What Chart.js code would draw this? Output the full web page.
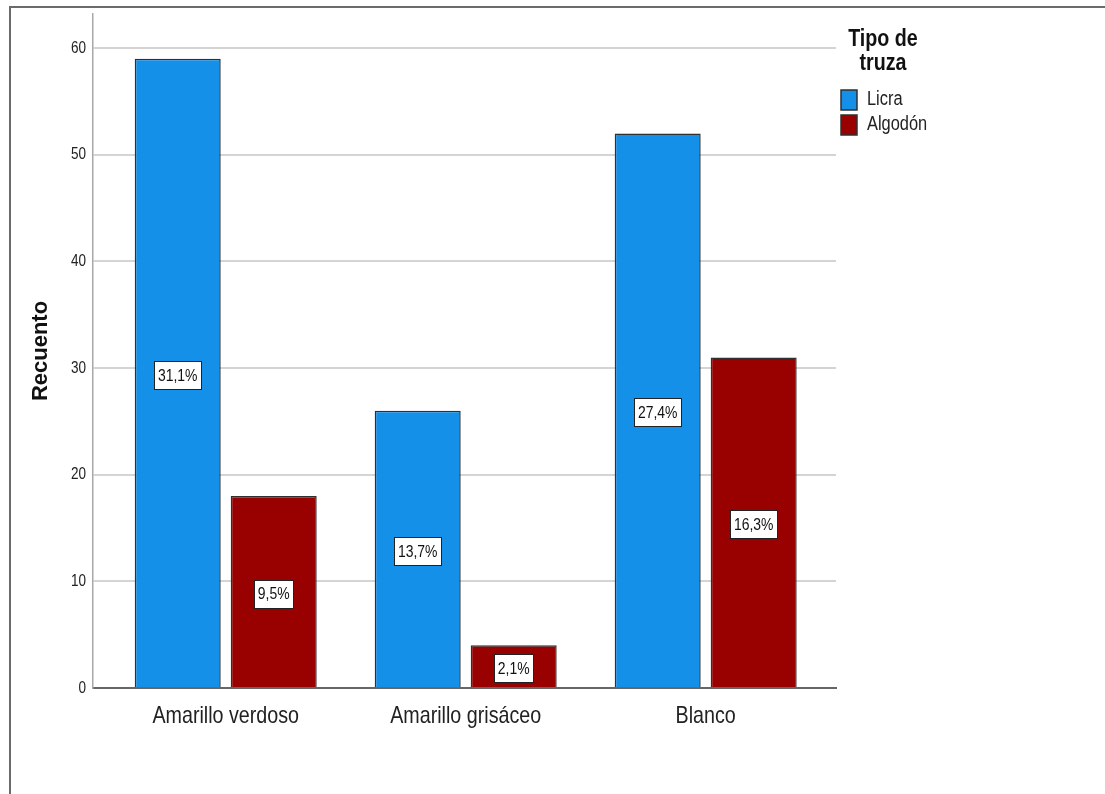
<!DOCTYPE html>
<html>
<head>
<meta charset="utf-8">
<script src="https://cdn.jsdelivr.net/npm/chart.js@4.4.1/dist/chart.umd.min.js"></script>
<style>
  html, body { margin: 0; padding: 0; background: #fff; }
  #wrap { position: relative; width: 1105px; height: 794px; overflow: hidden; }
  #chart { position: absolute; left: 0; top: 0; }
  #frame {
    position: absolute; left: 9px; top: 6px; right: -2px; bottom: -2px;
    border-top: 2px solid #6b6b6b; border-left: 2px solid #6b6b6b;
    pointer-events: none;
  }
</style>
</head>
<body>
<div id="wrap">
  <canvas id="chart" width="1105" height="794"></canvas>
  <div id="frame"></div>
</div>
<script>
const categories = ['Amarillo verdoso', 'Amarillo grisáceo', 'Blanco']
const licra = [59, 26, 52]
const algodon = [18, 4, 31]
const yTicks = [0, 10, 20, 30, 40, 50, 60]

const FONT = "'Liberation Sans', Arial, sans-serif"
const SQUEEZE = 0.82 // condensed look of the SPSS output text
const total = [...licra, ...algodon].reduce((a, b) => a + b, 0)

const toPoints = (vals) => vals.map((v, i) => ({ x: i + 1, y: v }))
const pctText = (v) => ((v / total) * 100).toFixed(1).replace('.', ',') + '%'

// draw horizontal text condensed; rotated text (axis title) is left alone
const narrowText = {
  id: 'narrowText',
  beforeDraw(chart) {
    const ctx = chart.ctx
    if (ctx.__narrow) return
    ctx.__narrow = true
    const fill = ctx.fillText.bind(ctx)
    ctx.fillText = (text, x, y) => {
      const m = ctx.getTransform()
      if (m.b !== 0 || m.c !== 0) return fill(text, x, y)
      ctx.save()
      ctx.translate(x, y)
      ctx.scale(SQUEEZE, 1)
      fill(text, 0, 0)
      ctx.restore()
    }
  },
}

// white boxed percentage in the middle of each bar
const barLabels = {
  id: 'barLabels',
  afterDatasetsDraw(chart) {
    const { ctx } = chart
    ctx.save()
    ctx.font = `17px ${FONT}`
    ctx.textAlign = 'center'
    ctx.textBaseline = 'middle'
    chart.data.datasets.forEach((ds, di) => {
      chart.getDatasetMeta(di).data.forEach((bar, i) => {
        const text = pctText(ds.data[i].y)
        const cy = (bar.y + bar.base) / 2 + 2
        const w = Math.round(ctx.measureText(text).width * SQUEEZE + 7)
        const h = 28
        const left = Math.round(bar.x - w / 2)
        const top = Math.round(cy - h / 2)
        ctx.fillStyle = '#fff'
        ctx.fillRect(left, top, w, h)
        ctx.strokeStyle = '#222'
        ctx.lineWidth = 1
        ctx.strokeRect(left + 0.5, top + 0.5, w, h)
        ctx.fillStyle = '#111'
        ctx.fillText(text, bar.x, cy + 1)
      })
    })
    ctx.restore()
  },
}

new Chart(document.getElementById('chart'), {
  type: 'bar',
  data: {
    datasets: [
      { label: 'Licra', data: toPoints(licra), backgroundColor: '#1490e8', borderColor: '#303030', borderWidth: 1.5 },
      { label: 'Algodón', data: toPoints(algodon), backgroundColor: '#990000', borderColor: '#303030', borderWidth: 1.5 },
    ],
  },
  options: {
    responsive: false,
    animation: false,
    devicePixelRatio: 1,
    categoryPercentage: 0.8,
    barPercentage: 0.896,
    layout: { padding: { left: 0, top: 14, right: 175, bottom: 0 } },
    plugins: {
      tooltip: { enabled: false },
      legend: {
        position: 'right',
        align: 'start',
        maxWidth: 94,
        title: {
          display: true,
          text: ['Tipo de', 'truza'],
          color: '#111',
          font: { family: FONT, size: 24, weight: 'bold', lineHeight: 1.02 },
          padding: { top: 13, bottom: 33.5 },
        },
        labels: {
          boxWidth: 16,
          boxHeight: 20,
          padding: 5,
          color: '#222',
          font: { family: FONT, size: 20 },
        },
      },
    },
    scales: {
      x: {
        type: 'linear',
        offset: false,
        min: 0.447,
        max: 3.543,
        grid: { display: false },
        border: { color: '#666', width: 2 },
        afterFit: (scale) => {
          scale.height = 106
          scale.paddingLeft = 0
          scale.paddingRight = 0
        },
        afterBuildTicks: (scale) => { scale.ticks = categories.map((c, i) => ({ value: i + 1 })) },
        ticks: {
          padding: 6,
          maxRotation: 0,
          autoSkip: false,
          color: '#222',
          font: { family: FONT, size: 24 },
          callback: (v) => categories[v - 1],
        },
      },
      y: {
        min: 0,
        max: 63.2,
        afterFit: (scale) => {
          scale.width = 93
          scale.paddingTop = 0
          scale.paddingBottom = 0
        },
        afterBuildTicks: (scale) => { scale.ticks = yTicks.map((v) => ({ value: v })) },
        grid: { color: '#d4d4d4', lineWidth: 2, drawTicks: false },
        border: { color: '#a8a8a8', width: 1.5 },
        ticks: { padding: 7, color: '#222', font: { family: FONT, size: 16.5 } },
        title: {
          display: true,
          text: 'Recuento',
          color: '#111',
          font: { family: FONT, size: 22, weight: 'bold' },
          padding: { top: 28 },
        },
      },
    },
  },
  plugins: [narrowText, barLabels],
})
</script>
</body>
</html>
